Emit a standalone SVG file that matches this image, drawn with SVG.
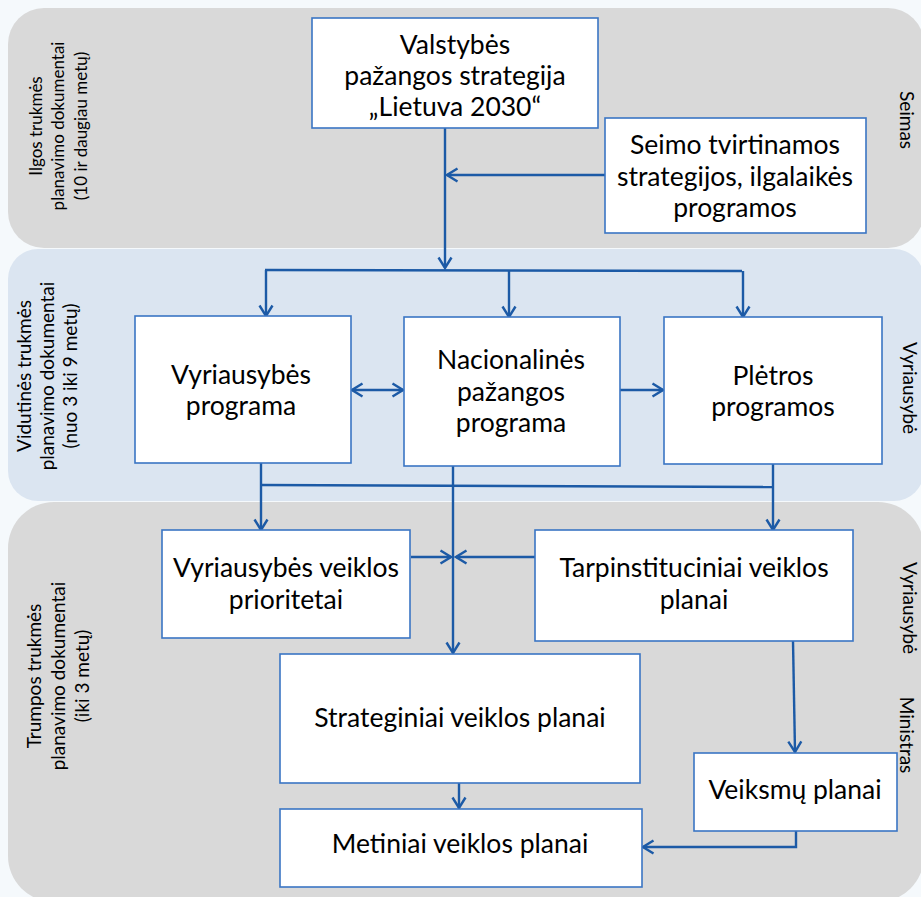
<svg xmlns="http://www.w3.org/2000/svg" width="921" height="897" viewBox="0 0 921 897">
<style>
.band1{fill:#d9d9d9}
.band2{fill:#dbe5f1}
.box{fill:#ffffff;stroke:#3a75c4;stroke-width:1.6}
.t{font-family:Lato,"Liberation Sans",sans-serif;font-size:26.5px;fill:#000;text-anchor:middle}
.lbl1{font-family:Lato,"Liberation Sans",sans-serif;font-size:17px;fill:#000;text-anchor:middle}
.lbl{font-family:Lato,"Liberation Sans",sans-serif;font-size:19px;fill:#000;text-anchor:middle}
.side{font-family:Lato,"Liberation Sans",sans-serif;font-size:19px;fill:#000;text-anchor:middle}
.c{fill:none;stroke:#1c5aa6;stroke-width:2.4}
</style>
<defs>
<marker id="ah" markerUnits="userSpaceOnUse" markerWidth="16" markerHeight="16" viewBox="0 0 16 16" refX="14" refY="8" orient="auto-start-reverse">
<path d="M3.5,1.5 L14,8 L3.5,14.5" fill="none" stroke="#1c5aa6" stroke-width="2.4"/>
</marker>
</defs>
<rect width="921" height="897" fill="#f5f9fc"/>
<g id="bands">
<rect class="band1" x="8" y="8" width="916" height="240" rx="36"/>
<rect class="band2" x="8" y="249" width="916" height="252" rx="30"/>
<rect class="band1" x="8" y="502" width="916" height="400" rx="46"/>
</g>
<g id="band-labels">
<text class="lbl1" transform="translate(42,126) rotate(-90)"><tspan x="0" dy="0">Ilgos  trukmės</tspan><tspan x="0" dy="22">planavimo dokumentai</tspan><tspan x="0" dy="23">(10 ir daugiau metų)</tspan></text>
<text class="lbl" transform="translate(31,376) rotate(-90)"><tspan x="0" dy="0">Vidutinės trukmės</tspan><tspan x="0" dy="23">planavimo dokumentai</tspan><tspan x="0" dy="23">(nuo 3 iki 9 metų)</tspan></text>
<text class="lbl" transform="translate(41,676) rotate(-90)"><tspan x="0" dy="0">Trumpos trukmės</tspan><tspan x="0" dy="24">planavimo dokumentai</tspan><tspan x="0" dy="24">(iki 3 metų)</tspan></text>
<text class="side" transform="translate(900,120) rotate(90)">Seimas</text>
<text class="side" transform="translate(903,388) rotate(90)">Vyriausybė</text>
<text class="side" transform="translate(903,608) rotate(90)">Vyriausybė</text>
<text class="side" transform="translate(900,735) rotate(90)">Ministras</text>
</g>
<g id="connectors">
<line class="c" x1="445" y1="128" x2="445" y2="268" marker-end="url(#ah)"/>
<line class="c" x1="605" y1="175" x2="447" y2="175" marker-end="url(#ah)"/>
<polyline class="c" points="265,270 742,271"/>
<line class="c" x1="266" y1="270" x2="266" y2="316" marker-end="url(#ah)"/>
<line class="c" x1="509" y1="270" x2="509" y2="317" marker-end="url(#ah)"/>
<line class="c" x1="743" y1="271" x2="743" y2="317" marker-end="url(#ah)"/>
<line class="c" x1="352" y1="390" x2="403" y2="390" marker-start="url(#ah)" marker-end="url(#ah)"/>
<line class="c" x1="620" y1="390" x2="663" y2="390" marker-end="url(#ah)"/>
<line class="c" x1="261" y1="463" x2="261" y2="485"/>
<line class="c" x1="773" y1="464" x2="773" y2="487"/>
<line class="c" x1="260" y1="485" x2="774" y2="487"/>
<line class="c" x1="261" y1="485" x2="261" y2="530" marker-end="url(#ah)"/>
<line class="c" x1="773" y1="487" x2="773" y2="530" marker-end="url(#ah)"/>
<line class="c" x1="453" y1="466" x2="453" y2="653" marker-end="url(#ah)"/>
<line class="c" x1="411" y1="557" x2="451" y2="557" marker-end="url(#ah)"/>
<line class="c" x1="535" y1="557" x2="456" y2="557" marker-end="url(#ah)"/>
<line class="c" x1="459" y1="783" x2="459" y2="808" marker-end="url(#ah)"/>
<line class="c" x1="793" y1="641" x2="795" y2="752" marker-end="url(#ah)"/>
<polyline class="c" points="796,831 796,847 643,847" marker-end="url(#ah)"/>
</g>
<g id="n-lietuva2030">
<rect class="box" x="312" y="18" width="286" height="110"/>
<text class="t" x="455" y="54">Valstybės</text>
<text class="t" x="455" y="85">pažangos strategija</text>
<text class="t" x="455" y="116">„Lietuva 2030“</text>
</g>
<g id="n-seimo">
<rect class="box" x="605" y="118" width="261" height="115"/>
<text class="t" x="735" y="154">Seimo tvirtinamos</text>
<text class="t" x="735" y="186">strategijos, ilgalaikės</text>
<text class="t" x="735" y="217">programos</text>
</g>
<g id="n-vyr-programa">
<rect class="box" x="135" y="316" width="216" height="147"/>
<text class="t" x="241" y="384">Vyriausybės</text>
<text class="t" x="241" y="415">programa</text>
</g>
<g id="n-nacionalines">
<rect class="box" x="404" y="317" width="216" height="149"/>
<text class="t" x="511" y="369">Nacionalinės</text>
<text class="t" x="511" y="401">pažangos</text>
<text class="t" x="511" y="432">programa</text>
</g>
<g id="n-pletros">
<rect class="box" x="664" y="317" width="218" height="147"/>
<text class="t" x="773" y="385">Plėtros</text>
<text class="t" x="773" y="416">programos</text>
</g>
<g id="n-vvp">
<rect class="box" x="162" y="530" width="248" height="108"/>
<text class="t" x="286" y="577">Vyriausybės veiklos</text>
<text class="t" x="286" y="609">prioritetai</text>
</g>
<g id="n-tarpinst">
<rect class="box" x="535" y="530" width="318" height="111"/>
<text class="t" x="694" y="577">Tarpinstituciniai veiklos</text>
<text class="t" x="694" y="609">planai</text>
</g>
<g id="n-strateginiai">
<rect class="box" x="280" y="654" width="360" height="129"/>
<text class="t" x="460" y="727">Strateginiai veiklos planai</text>
</g>
<g id="n-metiniai">
<rect class="box" x="280" y="809" width="362" height="78"/>
<text class="t" x="460" y="853">Metiniai veiklos planai</text>
</g>
<g id="n-veiksmu">
<rect class="box" x="694" y="753" width="203" height="78"/>
<text class="t" x="795" y="799">Veiksmų planai</text>
</g>
</svg>
